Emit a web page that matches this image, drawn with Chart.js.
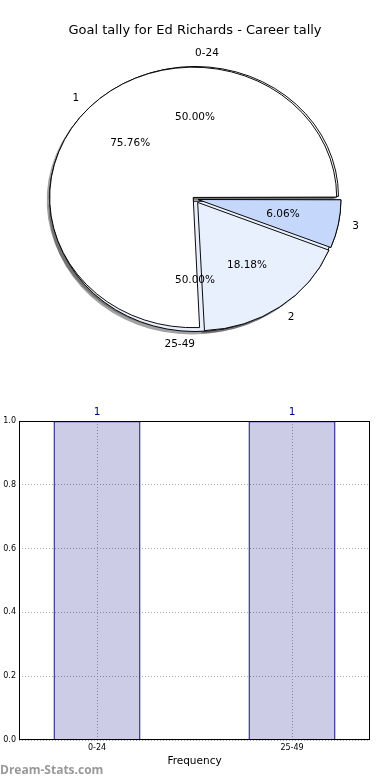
<!DOCTYPE html>
<html><head><meta charset="utf-8">
<script src="https://cdn.jsdelivr.net/npm/chart.js@4"></script>
<style>
html,body{margin:0;padding:0;background:#fff;width:390px;height:780px;overflow:hidden;font-family:'DejaVu Sans',sans-serif}
#wrap{position:relative;width:390px;height:780px}
#title{position:absolute;top:22px;left:0;width:390px;text-align:center;font-size:13px;line-height:16px;color:#000;white-space:nowrap}
canvas{position:absolute;left:0}
#pieA,#pieB{top:0}
#bar{top:400px}
#wm{position:absolute;left:0;top:762px;font-family:'Open Sans',sans-serif;font-weight:bold;font-size:12px;line-height:16px;color:#999}
</style></head>
<body><div id="wrap">
<canvas id="pieA" width="390" height="390"></canvas>
<canvas id="pieB" width="390" height="390"></canvas>
<div id="title">Goal tally for Ed Richards - Career tally</div>
<canvas id="bar" width="390" height="380"></canvas>
<div id="wm">Dream-Stats.com</div>
</div>
<script>
// ---- data ----
const rangeLabels = ['0-24', '25-49'];
const rangeValues = [1, 1];
const goalLabels = ['1', '2', '3'];
const goalValues = [25, 6, 2];
const barCategories = ['0-24', '25-49'];
const barValues = [1, 1];
const yTickValues = [0, 0.2, 0.4, 0.6, 0.8, 1.0];

// ---- styles ----
const rangeColors = ['#ffffff', '#e9effc'];
const goalColors = ['#ffffff', '#e9f0fd', '#c5d8fc'];
const PIE_R = 141;
const SY = 128 / PIE_R;
const EXPLODE = 5;
Chart.defaults.font.family = "'DejaVu Sans', sans-serif";

function offsetsFor(values) {
  const tot = values.reduce((a, b) => a + b, 0);
  return values.map(v => {
    const circ = v / tot * 2 * Math.PI;
    const fix = 1 - Math.sin(Math.min(Math.PI, circ));
    return 4 * EXPLODE / (1 + fix);
  });
}
const rev = a => a.slice().reverse();

let goalChart = null, rangeChart = null;

function ellipse(withShadow) {
  return {
    id: 'ellipse',
    beforeDatasetsDraw(chart) {
      const a = chart.chartArea, ctx = chart.ctx;
      const cx = (a.left + a.right) / 2, cy = (a.top + a.bottom) / 2;
      ctx.save();
      ctx.translate(cx, cy); ctx.scale(1, SY); ctx.translate(-cx, -cy);
      if (withShadow) {
        ctx.shadowColor = 'rgba(70,70,70,0.5)';
        ctx.shadowOffsetX = -3; ctx.shadowOffsetY = 3; ctx.shadowBlur = 0;
        ctx.stroke = function () {
          const c = this.shadowColor;
          this.shadowColor = 'rgba(0,0,0,0)';
          CanvasRenderingContext2D.prototype.stroke.apply(this, arguments);
          this.shadowColor = c;
        };
        if (goalChart) goalChart.getDatasetMeta(0).data.forEach(el => el.draw(ctx));
      }
    },
    afterDatasetsDraw(chart) {
      const ctx = chart.ctx;
      delete ctx.stroke;
      ctx.restore();
    }
  };
}

function pieOptions() {
  return {
    responsive: false, animation: false,
    radius: PIE_R, rotation: 90,
    layout: { padding: { top: 8 } },
    plugins: { legend: { display: false }, tooltip: { enabled: false }, title: { display: false } }
  };
}

const pieLabels = {
  id: 'pieLabels',
  afterDatasetsDraw(chart) {
    const ctx = chart.ctx;
    ctx.save();
    ctx.font = "10.5px 'DejaVu Sans'";
    ctx.fillStyle = '#000';
    ctx.textBaseline = 'middle';
    const charts = rangeChart ? [rangeChart, chart] : [chart];
    charts.forEach(c => {
      const meta = c.getDatasetMeta(0);
      const labels = c.data.labels;
      const vals = c.data.datasets[0].data;
      const tot = vals.reduce((a, b) => a + b, 0);
      meta.data.forEach((el, i) => {
        const mid = (el.startAngle + el.endAngle) / 2;
        const R = el.outerRadius;
        const co = Math.cos(mid), si = Math.sin(mid);
        let ha;
        if (Math.abs(co) < 1e-6) ha = si < 0 ? 'left' : 'right';
        else ha = co > 0 ? 'left' : 'right';
        ctx.textAlign = ha;
        ctx.fillText(labels[i], el.x + co * (EXPLODE + 1.1 * R), el.y + si * (EXPLODE + 1.1 * R) * SY);
        ctx.textAlign = 'center';
        ctx.fillText((vals[i] / tot * 100).toFixed(2) + '%', el.x + co * (EXPLODE + 0.6 * R), el.y + si * (EXPLODE + 0.6 * R) * SY);
      });
    });
    ctx.restore();
  }
};

goalChart = new Chart(document.getElementById('pieB'), {
  type: 'pie',
  data: {
    labels: rev(goalLabels),
    datasets: [{
      data: rev(goalValues),
      backgroundColor: rev(goalColors),
      borderColor: '#000', borderWidth: 1,
      offset: rev(offsetsFor(goalValues))
    }]
  },
  options: pieOptions(),
  plugins: [ellipse(false), pieLabels]
});

rangeChart = new Chart(document.getElementById('pieA'), {
  type: 'pie',
  data: {
    labels: rev(rangeLabels),
    datasets: [{
      data: rev(rangeValues),
      backgroundColor: rev(rangeColors),
      borderColor: '#000', borderWidth: 1,
      offset: rev(offsetsFor(rangeValues))
    }]
  },
  options: pieOptions(),
  plugins: [ellipse(true)]
});
goalChart.draw();

// ---- bar chart ----
const barDeco = {
  id: 'barDeco',
  afterDatasetsDraw(chart) {
    const ctx = chart.ctx, a = chart.chartArea;
    ctx.save();
    ctx.strokeStyle = '#000'; ctx.lineWidth = 1;
    ctx.strokeRect(Math.round(a.left) + 0.5, Math.round(a.top) + 0.5, Math.round(a.right - a.left) - 1, Math.round(a.bottom - a.top) - 1);
    ctx.font = "10.5px 'DejaVu Sans'";
    ctx.fillStyle = '#000080';
    ctx.textAlign = 'center'; ctx.textBaseline = 'middle';
    chart.getDatasetMeta(0).data.forEach((el, i) => {
      ctx.fillText(String(barValues[i]), el.x, el.y - 9);
    });
    ctx.restore();
  }
};

const gridStyle = { color: '#a8a8a8', lineWidth: 1, drawTicks: false, offset: false };
new Chart(document.getElementById('bar'), {
  type: 'bar',
  data: {
    datasets: [{
      data: barValues.map((v, i) => ({ x: i, y: v })),
      backgroundColor: 'rgba(0,0,128,0.2)',
      borderColor: '#000080',
      borderWidth: 1.2,
      borderSkipped: 'bottom',
      barPercentage: 0.446,
      categoryPercentage: 1
    }]
  },
  options: {
    responsive: false, animation: false,
    layout: { padding: { top: 21, right: 20, left: 0, bottom: 0 } },
    plugins: { legend: { display: false }, tooltip: { enabled: false } },
    scales: {
      x: {
        type: 'linear', min: -0.4, max: 1.4, offset: false,
        afterBuildTicks: s => { s.ticks = barCategories.map((c, i) => ({ value: i })); },
        afterFit: s => { s.height = 40; },
        ticks: { callback: v => barCategories[v], font: { size: 8 }, color: '#000', padding: 3, maxRotation: 0 },
        grid: gridStyle,
        border: { display: false, dash: [1, 2] },
        title: { display: true, text: 'Frequency', font: { size: 10.5 }, color: '#000', padding: { top: 0, bottom: 12 } }
      },
      y: {
        min: 0, max: 1,
        afterBuildTicks: s => { s.ticks = yTickValues.map(v => ({ value: v })); },
        afterFit: s => { s.width = 19; },
        ticks: { callback: v => Number(v).toFixed(1), font: { size: 8 }, color: '#000', padding: 3 },
        grid: gridStyle,
        border: { display: false, dash: [1, 2] }
      }
    }
  },
  plugins: [barDeco]
});
</script>
</body></html>
